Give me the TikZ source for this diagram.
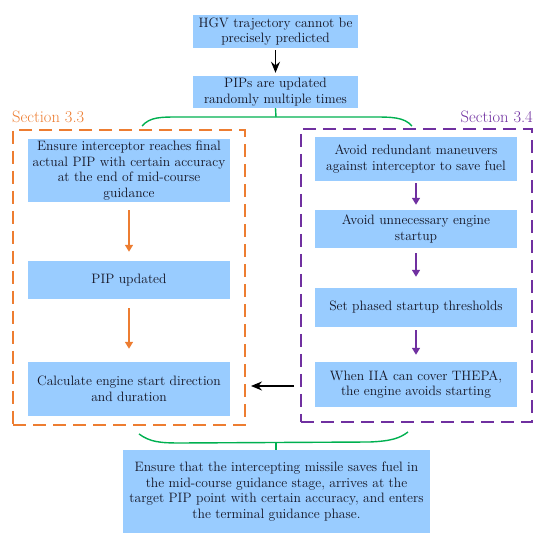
\documentclass[tikz,border=0pt]{standalone}
\usetikzlibrary{arrows.meta}
\definecolor{boxblue}{RGB}{153,204,255}
\definecolor{secorange}{RGB}{237,125,49}
\definecolor{secpurple}{RGB}{112,48,160}
\definecolor{bracegreen}{RGB}{0,176,80}
\definecolor{txt}{RGB}{20,20,35}
\tikzset{
  bluebox/.style={fill=boxblue, draw=none, inner sep=0pt, align=center, text=txt,
    font=\fontsize{13.6}{15.5}\selectfont},
  frameorange/.style={draw=secorange, line width=2pt, dash pattern=on 13pt off 7pt, inner sep=0pt},
  framepurple/.style={draw=secpurple, line width=2pt, dash pattern=on 13pt off 7pt, inner sep=0pt},
  seclabel/.style={font=\fontsize{16.5}{19}\selectfont, inner sep=0pt},
  oarrow/.style={draw=secorange, line width=1.5pt, -{Triangle[length=7pt,width=8pt]}},
  parrow/.style={draw=secpurple, line width=1.5pt, -{Triangle[length=7pt,width=8pt]}},
  karrow/.style={draw=black, line width=1.5pt, -{Stealth[length=11pt,width=9pt]}},
  gbrace/.style={draw=bracegreen, line width=1.4pt}
}
\begin{document}
\begin{tikzpicture}[x=1pt,y=-1pt]
\useasboundingbox (0,0) rectangle (550,545);
% top boxes
\node[bluebox, minimum width=165pt, minimum height=33pt] (hgv) at (275.5,31.5)
  {HGV trajectory cannot be\\precisely predicted};
\node[bluebox, minimum width=165pt, minimum height=32pt] (pips) at (275.5,92)
  {PIPs are updated\\randomly multiple times};
\draw[karrow, shorten <=2pt, shorten >=3pt] (hgv) -- (pips);
% frames
\node[frameorange, minimum width=232pt, minimum height=295pt] (fo) at (129,277.5) {};
\node[framepurple, minimum width=231pt, minimum height=293pt] (fp) at (416.5,275.5) {};
\node[seclabel, text=secorange, anchor=base west] (so) at (12,123) {Section 3.3};
\node[seclabel, text=secpurple, anchor=base east] (sp) at (533,123) {Section 3.4};
% left boxes
\node[bluebox, minimum width=202pt, minimum height=63pt] (l1) at (129,170.5)
  {Ensure interceptor reaches final\\actual PIP with certain accuracy\\at the end of mid-course\\guidance};
\node[bluebox, minimum width=202pt, minimum height=38pt] (l2) at (129,280)
  {PIP updated};
\node[bluebox, minimum width=202pt, minimum height=54pt] (l3) at (129,389)
  {Calculate engine start direction\\and duration};
\draw[oarrow, shorten <=8pt, shorten >=9pt] (l1) -- (l2);
\draw[oarrow, shorten <=9pt, shorten >=13pt] (l2) -- (l3);
% right boxes
\node[bluebox, minimum width=202pt, minimum height=44pt] (r1) at (416,159)
  {Avoid redundant maneuvers\\against interceptor to save fuel};
\node[bluebox, minimum width=202pt, minimum height=38pt] (r2) at (416,229)
  {Avoid unnecessary engine\\startup};
\node[bluebox, minimum width=202pt, minimum height=39pt] (r3) at (416,307.5)
  {Set phased startup thresholds};
\node[bluebox, minimum width=202pt, minimum height=45pt] (r4) at (416,384.5)
  {When IIA can cover THEPA,\\the engine avoids starting};
\draw[parrow, shorten <=2pt, shorten >=5pt] (r1) -- (r2);
\draw[parrow, shorten <=5pt, shorten >=11pt] (r2) -- (r3);
\draw[parrow, shorten <=3pt, shorten >=7pt] (r3) -- (r4);
% cross arrow
\draw[karrow, shorten <=6pt, shorten >=5pt] (fp.west |- 0,386) -- (fo.east |- 0,386);
% bottom box
\node[bluebox, minimum width=307pt, minimum height=83pt] (bot) at (276.5,491.5)
  {Ensure that the intercepting missile saves fuel in\\the mid-course guidance stage, arrives at the\\target PIP point with certain accuracy, and enters\\the terminal guidance phase.};
% top brace
\coordinate (tb) at (276,117);
\coordinate (tbl) at (142,126);
\coordinate (tbr) at (412,126);
\draw[gbrace] (pips.south) -- (tb);
\draw[gbrace] (tbl) .. controls (150,117) and (160,117) .. (180,117) -- (372,117)
  .. controls (392,117) and (404,117) .. (tbr);
% bottom brace
\coordinate (bb) at (276,443);
\coordinate (bbl) at (139,434);
\coordinate (bbr) at (408,432);
\draw[gbrace] (bbl) .. controls (150,442) and (160,443) .. (180,443) -- (370,442)
  .. controls (392,441) and (400,438) .. (bbr);
\draw[gbrace] (bb) -- (bot.north -| bb);
\end{tikzpicture}
\end{document}
